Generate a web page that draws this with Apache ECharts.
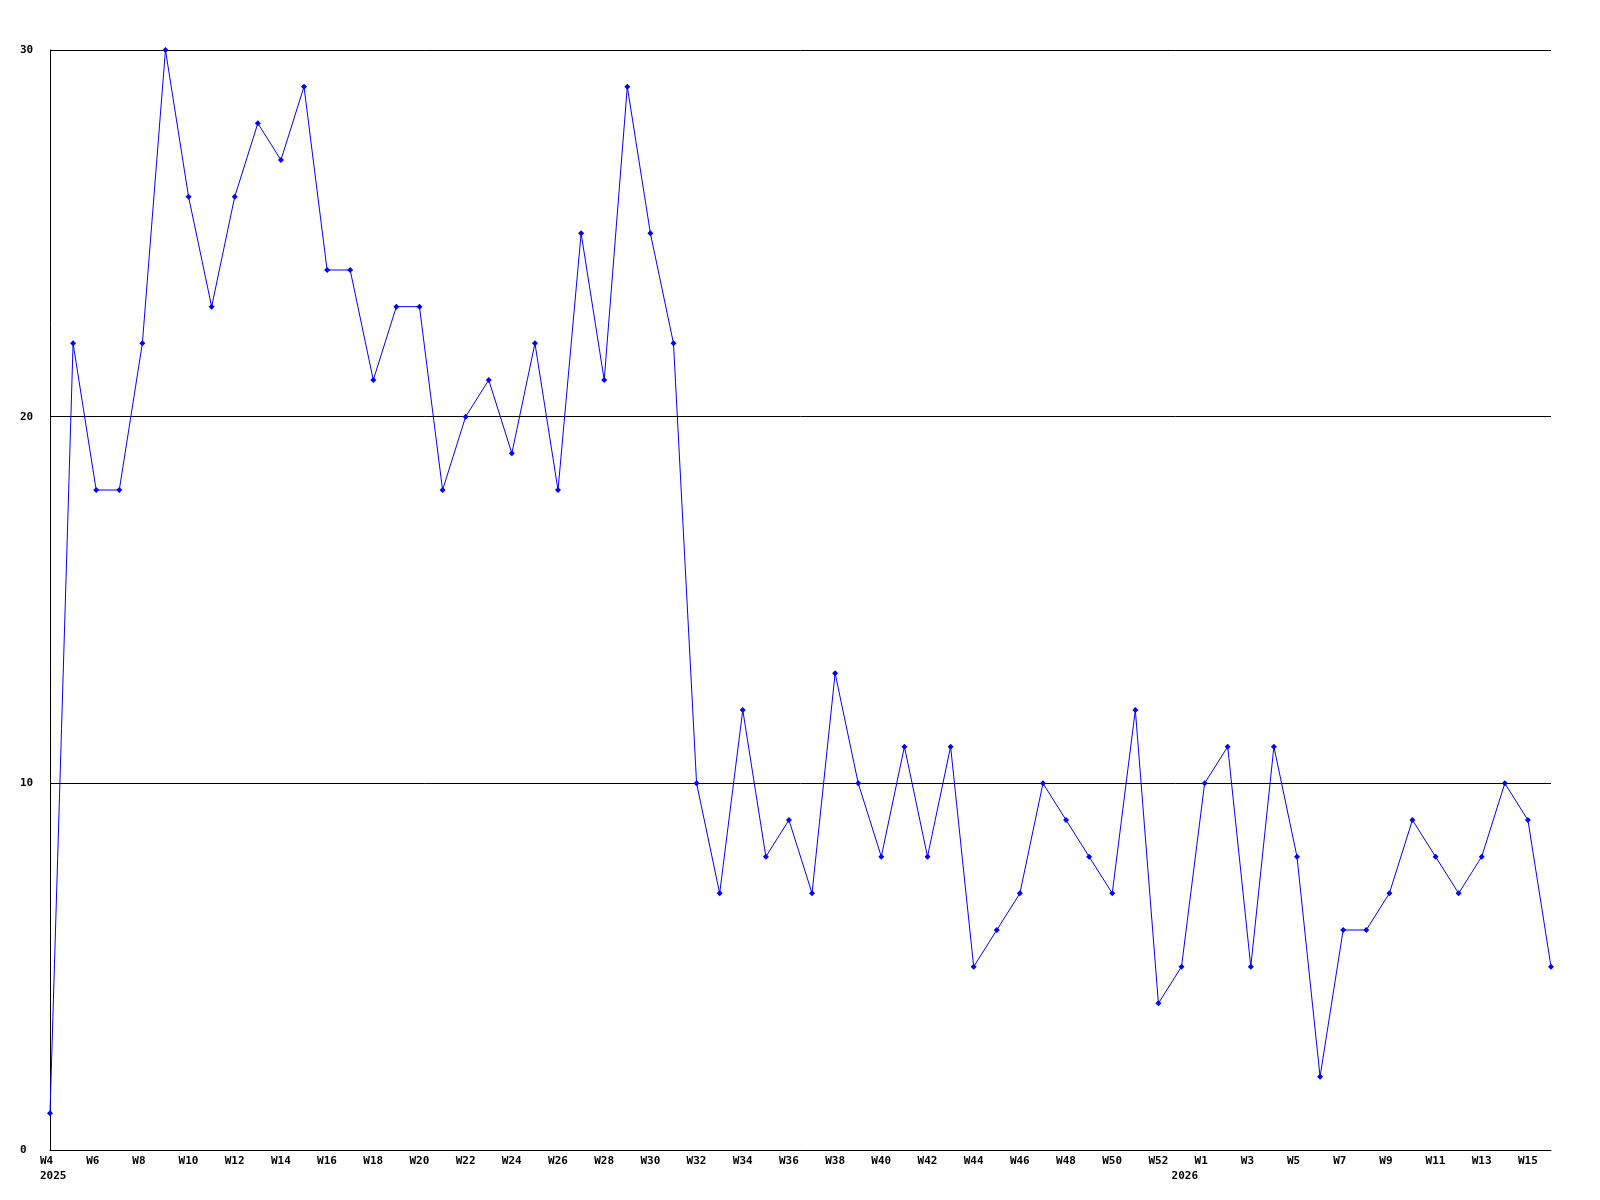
<!DOCTYPE html>
<html>
<head>
<meta charset="utf-8">
<script src="https://cdn.jsdelivr.net/npm/echarts@6/dist/echarts.min.js"></script>
<style>
  html, body { margin: 0; padding: 0; background: #ffffff; }
  #chart { width: 1600px; height: 1200px; }
</style>
</head>
<body>
<div id="chart"></div>
<script>
// Week categories (2025 W4 .. W52, first week of 2026, then W1 .. W16)
const weeks = [
  'W4','W5','W6','W7','W8','W9','W10','W11','W12','W13','W14','W15','W16','W17','W18','W19','W20',
  'W21','W22','W23','W24','W25','W26','W27','W28','W29','W30','W31','W32','W33','W34','W35','W36',
  'W37','W38','W39','W40','W41','W42','W43','W44','W45','W46','W47','W48','W49','W50','W51','W52',
  'W0',
  'W1','W2','W3','W4','W5','W6','W7','W8','W9','W10','W11','W12','W13','W14','W15','W16'
];
// Year labels shown under the axis at the first week of each year
const yearIndex = [0, 49];
const yearLabels = ['2025', '2026'];

// Weekly values
const values = [
  1, 22, 18, 18, 22, 30, 26, 23, 26, 28, 27, 29, 24, 24, 21, 23, 23,
  18, 20, 21, 19, 22, 18, 25, 21, 29, 25, 22, 10, 7, 12, 8, 9,
  7, 13, 10, 8, 11, 8, 11, 5, 6, 7, 10, 9, 8, 7, 12, 4,
  5,
  10, 11, 5, 11, 8, 2, 6, 6, 7, 9, 8, 7, 8, 10, 9, 5
];

// Y axis ticks
const yTicks = [0, 10, 20, 30];

const labelFont = {
  fontFamily: 'DejaVu Sans Mono',
  fontWeight: 'bold',
  fontSize: 11,
  color: '#000000'
};

const chart = echarts.init(document.getElementById('chart'), null, { renderer: 'canvas' });
chart.setOption({
  animation: false,
  backgroundColor: '#ffffff',
  grid: { left: 50, right: 49, top: 50, bottom: 50, containLabel: false },
  xAxis: {
    type: 'category',
    data: weeks,
    boundaryGap: false,
    axisLine: { show: true, lineStyle: { color: '#000000', width: 1 } },
    axisTick: { show: false },
    splitLine: { show: false },
    axisLabel: Object.assign({
      interval: 0,
      hideOverlap: false,
      align: 'left',
      lineHeight: 15,
      margin: 4,
      padding: [0, 0, 0, -10],
      formatter: function (val, idx) {
        const yi = yearIndex.indexOf(idx);
        const year = yi >= 0 ? yearLabels[yi] : null;
        if (idx % 2 === 0) {
          return year ? val + '\n' + year : val;
        }
        return year ? ' \n' + year : '';
      }
    }, labelFont)
  },
  yAxis: {
    type: 'value',
    min: yTicks[0],
    max: yTicks[yTicks.length - 1],
    interval: 10,
    axisLine: { show: true, lineStyle: { color: '#000000', width: 1 } },
    axisTick: { show: false },
    splitLine: { show: true, lineStyle: { color: '#000000', width: 1 } },
    axisLabel: Object.assign({
      align: 'left',
      margin: 30
    }, labelFont)
  },
  series: [{
    type: 'line',
    data: values,
    symbol: 'diamond',
    symbolSize: 6,
    showSymbol: true,
    showAllSymbol: true,
    lineStyle: { color: '#0000ff', width: 1 },
    itemStyle: { color: '#0000ff' },
    emphasis: { disabled: true }
  }]
});
</script>
</body>
</html>
